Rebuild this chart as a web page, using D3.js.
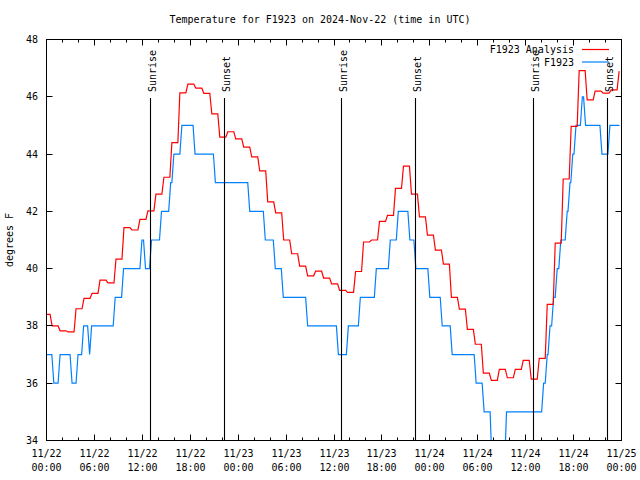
<!DOCTYPE html>
<html>
<head>
<meta charset="utf-8">
<script src="https://cdn.jsdelivr.net/npm/d3@7"></script>
<style>
  html, body { margin: 0; padding: 0; background: #fff; }
  svg { display: block; }
  text { font-family: "DejaVu Sans Mono", "Liberation Mono", monospace; font-size: 10px; fill: #000; }
</style>
</head>
<body>
<svg id="chart" width="640" height="480"></svg>
<script>
// ---------------- data ----------------
const chartTitle = "Temperature for F1923 on 2024-Nov-22 (time in UTC)";
const yLabel = "degrees F";
const startTime = "2024-11-22T00:00:00Z";
const endTime = "2024-11-25T00:00:00Z";
const yTicks = [34, 36, 38, 40, 42, 44, 46, 48];
const seriesNames = ["F1923 Analysis", "F1923"];

// Analysis: hourly values; each value starts at hh:42 (first one at 11/22 00:00)
const analysisTimes = [
  "2024-11-22T00:00Z","2024-11-22T00:42Z","2024-11-22T01:42Z","2024-11-22T02:42Z","2024-11-22T03:42Z",
  "2024-11-22T04:42Z","2024-11-22T05:42Z","2024-11-22T06:42Z","2024-11-22T07:42Z","2024-11-22T08:42Z",
  "2024-11-22T09:42Z","2024-11-22T10:42Z","2024-11-22T11:42Z","2024-11-22T12:42Z","2024-11-22T13:42Z",
  "2024-11-22T14:42Z","2024-11-22T15:42Z","2024-11-22T16:42Z","2024-11-22T17:42Z","2024-11-22T18:42Z",
  "2024-11-22T19:42Z","2024-11-22T20:42Z","2024-11-22T21:42Z","2024-11-22T22:42Z","2024-11-22T23:42Z",
  "2024-11-23T00:42Z","2024-11-23T01:42Z","2024-11-23T02:42Z","2024-11-23T03:42Z","2024-11-23T04:42Z",
  "2024-11-23T05:42Z","2024-11-23T06:42Z","2024-11-23T07:42Z","2024-11-23T08:42Z","2024-11-23T09:42Z",
  "2024-11-23T10:42Z","2024-11-23T11:42Z","2024-11-23T12:42Z","2024-11-23T13:42Z","2024-11-23T14:42Z",
  "2024-11-23T15:42Z","2024-11-23T16:42Z","2024-11-23T17:42Z","2024-11-23T18:42Z","2024-11-23T19:42Z",
  "2024-11-23T20:42Z","2024-11-23T21:42Z","2024-11-23T22:42Z","2024-11-23T23:42Z","2024-11-24T00:42Z",
  "2024-11-24T01:42Z","2024-11-24T02:42Z","2024-11-24T03:42Z","2024-11-24T04:42Z","2024-11-24T05:42Z",
  "2024-11-24T06:42Z","2024-11-24T07:42Z","2024-11-24T08:42Z","2024-11-24T09:42Z","2024-11-24T10:42Z",
  "2024-11-24T11:42Z","2024-11-24T12:42Z","2024-11-24T13:42Z","2024-11-24T14:42Z","2024-11-24T15:42Z",
  "2024-11-24T16:42Z","2024-11-24T17:42Z","2024-11-24T18:42Z","2024-11-24T19:42Z","2024-11-24T20:42Z",
  "2024-11-24T21:42Z","2024-11-24T22:42Z","2024-11-24T23:42Z"
];
const analysisValues = [
  38.4, 38.0, 37.83, 37.79, 38.6, 38.96, 39.14, 39.6, 39.5, 40.33,
  41.43, 41.35, 41.72, 42.02, 42.6, 43.19, 44.4, 46.14, 46.44, 46.3,
  46.12, 45.4, 44.59, 44.78, 44.53, 44.24, 43.9, 43.41, 42.33, 41.95,
  41.0, 40.52, 40.09, 39.75, 39.91, 39.67, 39.47, 39.24, 39.17, 39.9,
  40.93, 41.0, 41.65, 41.86, 42.8, 43.58, 42.6, 41.81, 41.17, 40.65,
  40.16, 39.0, 38.59, 37.88, 37.36, 36.35, 36.1, 36.48, 36.19, 36.48,
  36.8, 36.14, 36.87, 38.75, 40.89, 43.13, 44.97, 46.91, 45.89, 46.2,
  46.13, 46.24, 46.88
];
const analysisEnd = "2024-11-24T23:45Z";

// Observations (integer degrees), value starts at given time
const obsTimes = [
  "2024-11-22T00:00Z","2024-11-22T00:55Z","2024-11-22T01:42Z","2024-11-22T03:12Z","2024-11-22T03:57Z",
  "2024-11-22T04:39Z","2024-11-22T05:24Z","2024-11-22T05:39Z","2024-11-22T08:36Z","2024-11-22T09:39Z",
  "2024-11-22T11:57Z","2024-11-22T12:24Z","2024-11-22T13:09Z","2024-11-22T14:24Z","2024-11-22T15:33Z",
  "2024-11-22T15:57Z","2024-11-22T16:57Z","2024-11-22T18:36Z","2024-11-22T21:09Z","2024-11-23T01:27Z",
  "2024-11-23T03:24Z","2024-11-23T04:39Z","2024-11-23T05:39Z","2024-11-23T08:42Z","2024-11-23T12:33Z",
  "2024-11-23T13:48Z","2024-11-23T15:18Z","2024-11-23T17:18Z","2024-11-23T19:03Z","2024-11-23T20:03Z",
  "2024-11-23T21:30Z","2024-11-23T22:15Z","2024-11-24T00:00Z","2024-11-24T01:33Z","2024-11-24T02:48Z",
  "2024-11-24T05:48Z","2024-11-24T06:48Z","2024-11-24T07:48Z","2024-11-24T09:36Z","2024-11-24T14:15Z",
  "2024-11-24T14:42Z","2024-11-24T15:03Z","2024-11-24T15:30Z","2024-11-24T15:57Z","2024-11-24T16:24Z",
  "2024-11-24T17:12Z","2024-11-24T17:33Z","2024-11-24T17:54Z","2024-11-24T18:18Z","2024-11-24T19:06Z",
  "2024-11-24T19:30Z","2024-11-24T21:33Z","2024-11-24T22:33Z"
];
const obsValues = [
  37, 36, 37, 36, 37, 38, 37, 38, 39, 40,
  41, 40, 41, 42, 43, 44, 45, 44, 43, 42,
  41, 40, 39, 38, 37, 38, 39, 40, 41, 42,
  41, 40, 39, 38, 37, 36, 35, 33, 35, 36,
  37, 38, 39, 40, 41, 42, 43, 44, 45, 46,
  45, 44, 45
];
const obsEnd = "2024-11-24T23:45Z";

const sunEvents = [
  { label: "Sunrise", time: "2024-11-22T12:58Z" },
  { label: "Sunset",  time: "2024-11-22T22:15Z" },
  { label: "Sunrise", time: "2024-11-23T12:59Z" },
  { label: "Sunset",  time: "2024-11-23T22:15Z" },
  { label: "Sunrise", time: "2024-11-24T13:00Z" },
  { label: "Sunset",  time: "2024-11-24T22:14Z" }
];

// ---------------- chart ----------------
const seriesColors = ["#ff0000", "#0080ff"];
const svg = d3.select("#chart");
const L = 46.5, R = 621.5, T = 39.5, B = 440.5;
const parse = s => new Date(s);

const x = d3.scaleUtc().domain([parse(startTime), parse(endTime)]).range([L, R]);
const y = d3.scaleLinear().domain([34, 48]).range([B, T]);

svg.append("defs").append("clipPath").attr("id", "clip")
  .append("rect").attr("x", L).attr("y", T).attr("width", R - L).attr("height", B - T);

// title
svg.append("text").attr("x", 320).attr("y", 23).attr("text-anchor", "middle").text(chartTitle);

// y axis label
svg.append("text").attr("transform", "translate(13,240) rotate(-90)")
  .attr("text-anchor", "middle").text(yLabel);

// build step-like path points (short ramp between levels)
const ramp = 15 * 60 * 1000;
function stepPoints(times, values, endT) {
  const pts = [];
  const ts = times.map(parse);
  const te = parse(endT);
  for (let i = 0; i < values.length; i++) {
    const t0 = ts[i];
    const t1 = i + 1 < values.length ? new Date(+ts[i + 1] - ramp) : te;
    pts.push([t0, values[i]]);
    pts.push([t1, values[i]]);
  }
  return pts;
}
const line = d3.line().x(d => x(d[0])).y(d => y(d[1]));

const plot = svg.append("g").attr("clip-path", "url(#clip)");

// sunrise / sunset lines
const sunG = svg.append("g");
sunEvents.forEach(e => {
  const xs = Math.round(x(parse(e.time)) - 0.5) + 0.5;
  sunG.append("line").attr("x1", xs).attr("x2", xs).attr("y1", 98).attr("y2", B)
    .attr("stroke", "#000").attr("stroke-width", 1.1);
  sunG.append("text").attr("transform", `translate(${xs + 5},92) rotate(-90)`)
    .attr("text-anchor", "start").text(e.label);
});

plot.append("path").datum(stepPoints(obsTimes, obsValues, obsEnd))
  .attr("d", line).attr("fill", "none").attr("stroke", seriesColors[1]).attr("stroke-width", 1.2);
plot.append("path").datum(stepPoints(analysisTimes, analysisValues, analysisEnd))
  .attr("d", line).attr("fill", "none").attr("stroke", seriesColors[0]).attr("stroke-width", 1.2);

// frame
svg.append("rect").attr("x", L).attr("y", T).attr("width", R - L).attr("height", B - T)
  .attr("fill", "none").attr("stroke", "#000").attr("stroke-width", 1);

// y ticks (left & right, inward)
const yt = svg.append("g");
yTicks.forEach(v => {
  const yy = Math.round(y(v) - 0.5) + 0.5;
  yt.append("line").attr("x1", L).attr("x2", L + 6).attr("y1", yy).attr("y2", yy).attr("stroke", "#000");
  yt.append("line").attr("x1", R - 6).attr("x2", R).attr("y1", yy).attr("y2", yy).attr("stroke", "#000");
  yt.append("text").attr("x", 38).attr("y", yy + 3.5).attr("text-anchor", "end").text(v);
});

// x ticks: minor every 2h, major every 6h (top & bottom, inward)
const xt = svg.append("g");
const minor = d3.utcHour.every(2).range(parse(startTime), new Date(+parse(endTime) + 1));
minor.forEach(t => {
  const xx = Math.round(x(t) - 0.5) + 0.5;
  const major = t.getUTCHours() % 6 === 0;
  const len = major ? 6 : 3;
  xt.append("line").attr("x1", xx).attr("x2", xx).attr("y1", B).attr("y2", B - len).attr("stroke", "#000");
  xt.append("line").attr("x1", xx).attr("x2", xx).attr("y1", T).attr("y2", T + len).attr("stroke", "#000");
  if (major) {
    const tx = xt.append("text").attr("text-anchor", "middle");
    tx.append("tspan").attr("x", xx).attr("y", 457).text(d3.utcFormat("%m/%d")(t));
    tx.append("tspan").attr("x", xx).attr("y", 471).text(d3.utcFormat("%H:%M")(t));
  }
});

// legend
const lg = svg.append("g");
seriesNames.forEach((name, i) => {
  const ly = 49.5 + i * 12.5;
  lg.append("text").attr("x", 574).attr("y", ly + 3.5).attr("text-anchor", "end").text(name);
  lg.append("line").attr("x1", 582).attr("x2", 609).attr("y1", ly).attr("y2", ly)
    .attr("stroke", seriesColors[i]).attr("stroke-width", 1.2);
});
</script>
</body>
</html>
